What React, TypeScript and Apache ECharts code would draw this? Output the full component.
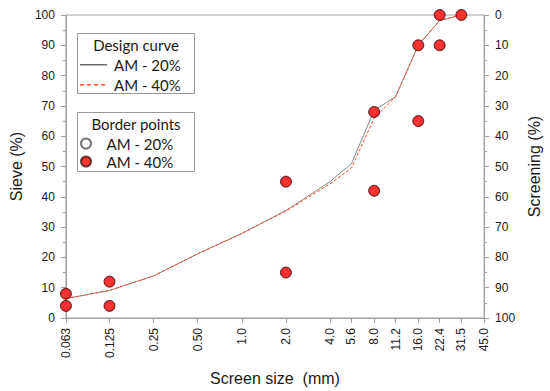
import React, { useEffect, useRef } from "react";
import * as echarts from "echarts";

// Screen sizes (mm) of the sieve series and axis tick labels
const sizes = [0.063, 0.125, 0.25, 0.5, 1.0, 2.0, 4.0, 5.6, 8.0, 11.2, 16.0, 22.4, 31.5];
const tickSizes = [0.063, 0.125, 0.25, 0.5, 1.0, 2.0, 4.0, 5.6, 8.0, 11.2, 16.0, 22.4, 31.5, 45.0];
const tickLabels = ["0.063", "0.125", "0.25", "0.50", "1.0", "2.0", "4.0", "5.6", "8.0", "11.2", "16.0", "22.4", "31.5", "45.0"];

// Design curves (passing %)
const design20 = [6.4, 9.1, 13.9, 21.2, 27.9, 35.5, 45.0, 51.0, 68.5, 73.0, 90.0, 98.2, 100];
const design40 = [6.4, 9.1, 13.9, 21.2, 27.9, 35.3, 44.3, 49.5, 66.0, 73.0, 90.0, 98.2, 100];

// Border points [size, passing %]
const border20Sizes = [0.063, 0.063, 0.125, 0.125, 2.0, 2.0, 8.0, 8.0, 16.0, 16.0, 22.4, 22.4, 31.5];
const border20Values = [8, 4, 12, 4, 45, 15, 68, 42, 90, 65, 100, 90, 100];
const border40Sizes = [0.063, 0.063, 0.125, 0.125, 2.0, 2.0, 8.0, 8.0, 16.0, 16.0, 22.4, 22.4, 31.5];
const border40Values = [8, 4, 12, 4, 45, 15, 68, 42, 90, 65, 100, 90, 100];

const lg = (v: number) => Math.log2(v);
const axisFont = "'Liberation Sans', Arial, sans-serif";
const legendFont = "Lato, 'Open Sans', sans-serif";
const axisColor = "#a0a0a0";

// legend icons (27 x 14 box, tiny corner anchors keep the box size)
const anchors = "M0,0 L0.01,0 L0.01,0.01 Z M27,14 L26.99,14 L26.99,13.99 Z ";
const solidIcon = "path://" + anchors + "M0,6.5 L27,6.5 L27,8 L0,8 Z";
const dashedIcon =
  "path://" +
  anchors +
  [0, 7, 14, 21].map((x) => `M${x},6.5 L${x + 4},6.5 L${x + 4},8 L${x},8 Z`).join(" ");

export default function App() {
  const ref = useRef<HTMLDivElement>(null);
  useEffect(() => {
    document.body.style.margin = "0";
    if (!ref.current) return;
    const chart = echarts.init(ref.current, undefined, { renderer: "svg" });
    const tickPos = tickSizes.map(lg);
    const fmt = (v: number) => {
      let best = 0;
      for (let i = 1; i < tickPos.length; i++) {
        if (Math.abs(tickPos[i] - v) < Math.abs(tickPos[best] - v)) best = i;
      }
      return tickLabels[best];
    };
    const stripPrefix = (name: string) => name.replace(/^(Design|Border) /, "");
    chart.setOption({
      animation: false,
      backgroundColor: "#ffffff",
      grid: {
        left: 57,
        right: 59,
        top: 15,
        bottom: 73,
        show: true,
        borderColor: axisColor,
        borderWidth: 1,
      },
      xAxis: {
        type: "value",
        min: lg(0.063),
        max: lg(45),
        name: "Screen size  (mm)",
        nameLocation: "middle",
        nameGap: 52,
        nameTextStyle: { fontFamily: axisFont, fontSize: 16, color: "#1a1a1a" },
        splitLine: { show: false },
        axisLine: { onZero: false, lineStyle: { color: axisColor } },
        axisTick: { show: true, length: 5, customValues: tickPos, lineStyle: { color: axisColor } },
        axisLabel: {
          customValues: tickPos,
          rotate: 90,
          margin: 10,
          formatter: fmt,
          fontFamily: axisFont,
          fontSize: 12,
          color: "#1a1a1a",
        },
      },
      yAxis: [
        {
          type: "value",
          min: 0,
          max: 100,
          interval: 10,
          name: "Sieve (%)",
          nameLocation: "middle",
          nameRotate: 90,
          nameGap: 35,
          nameTextStyle: { fontFamily: axisFont, fontSize: 16, color: "#1a1a1a" },
          splitLine: { show: false },
          axisLine: { show: true, onZero: false, lineStyle: { color: axisColor } },
          axisTick: { show: true, length: 5, lineStyle: { color: axisColor } },
          minorTick: { show: true, splitNumber: 2, length: 3, lineStyle: { color: axisColor } },
          axisLabel: { margin: 11, fontFamily: axisFont, fontSize: 12, color: "#1a1a1a" },
        },
        {
          type: "value",
          min: 0,
          max: 100,
          interval: 10,
          inverse: true,
          position: "right",
          name: "Screening (%)",
          nameLocation: "middle",
          nameRotate: 90,
          nameGap: 37,
          nameTextStyle: { fontFamily: axisFont, fontSize: 16, color: "#1a1a1a" },
          splitLine: { show: false },
          axisLine: { show: true, onZero: false, lineStyle: { color: axisColor } },
          axisTick: { show: true, length: 5, lineStyle: { color: axisColor } },
          minorTick: { show: true, splitNumber: 2, length: 3, lineStyle: { color: axisColor } },
          axisLabel: { margin: 11, fontFamily: axisFont, fontSize: 12, color: "#1a1a1a" },
        },
      ],
      legend: [
        {
          orient: "vertical",
          left: 75,
          top: 52,
          itemWidth: 27,
          itemHeight: 14,
          itemGap: 5,
          data: [
            { name: "Design AM - 20%", icon: solidIcon, itemStyle: { color: "#6a6a6a" } },
            { name: "Design AM - 40%", icon: dashedIcon, itemStyle: { color: "#ff5a1f" } },
          ],
          formatter: stripPrefix,
          textStyle: { fontFamily: legendFont, fontSize: 15, color: "#1a1a1a", padding: [0, 0, 0, 2] },
          selectedMode: false,
        },
        {
          orient: "vertical",
          left: 75,
          top: 131,
          itemWidth: 27,
          itemHeight: 10,
          itemGap: 3,
          data: ["Border AM - 20%", "Border AM - 40%"],
          formatter: stripPrefix,
          textStyle: { fontFamily: legendFont, fontSize: 15, color: "#1a1a1a", padding: [0, 0, 0, 2] },
          selectedMode: false,
        },
      ],
      graphic: [
        { type: "rect", shape: { x: 77.5, y: 33.5, width: 117, height: 60 }, style: { fill: "none", stroke: "#999", lineWidth: 1 } },
        { type: "rect", shape: { x: 77.5, y: 112.5, width: 117, height: 59 }, style: { fill: "none", stroke: "#999", lineWidth: 1 } },
        { type: "text", x: 136, y: 45, style: { text: "Design curve", fontFamily: legendFont, fontSize: 15, fill: "#1a1a1a", align: "center", verticalAlign: "middle" } },
        { type: "text", x: 136, y: 124, style: { text: "Border points", fontFamily: legendFont, fontSize: 15, fill: "#1a1a1a", align: "center", verticalAlign: "middle" } },
      ],
      series: [
        {
          name: "Design AM - 20%",
          type: "line",
          symbol: "none",
          data: sizes.map((s, i) => [lg(s), design20[i]]),
          lineStyle: { color: "#8a8a8a", width: 1 },
          itemStyle: { color: "#6a6a6a" },
          z: 2,
        },
        {
          name: "Design AM - 40%",
          type: "line",
          symbol: "none",
          data: sizes.map((s, i) => [lg(s), design40[i]]),
          lineStyle: { color: "#ff4a2a", width: 1, type: [3, 2] },
          itemStyle: { color: "#ff4a2a" },
          z: 3,
        },
        {
          name: "Border AM - 20%",
          type: "scatter",
          symbol: "circle",
          symbolSize: 10,
          data: border20Sizes.map((s, i) => [lg(s), border20Values[i]]),
          itemStyle: { color: "#ffffff", borderColor: "#555", borderWidth: 1 },
          z: 4,
        },
        {
          name: "Border AM - 40%",
          type: "scatter",
          symbol: "circle",
          symbolSize: 11,
          data: border40Sizes.map((s, i) => [lg(s), border40Values[i]]),
          itemStyle: { color: "#ff0000", borderColor: "#3a1a1a", borderWidth: 1 },
          z: 5,
        },
      ],
    });
    return () => chart.dispose();
  }, []);
  return <div ref={ref} style={{ width: 550, height: 391 }} />;
}
